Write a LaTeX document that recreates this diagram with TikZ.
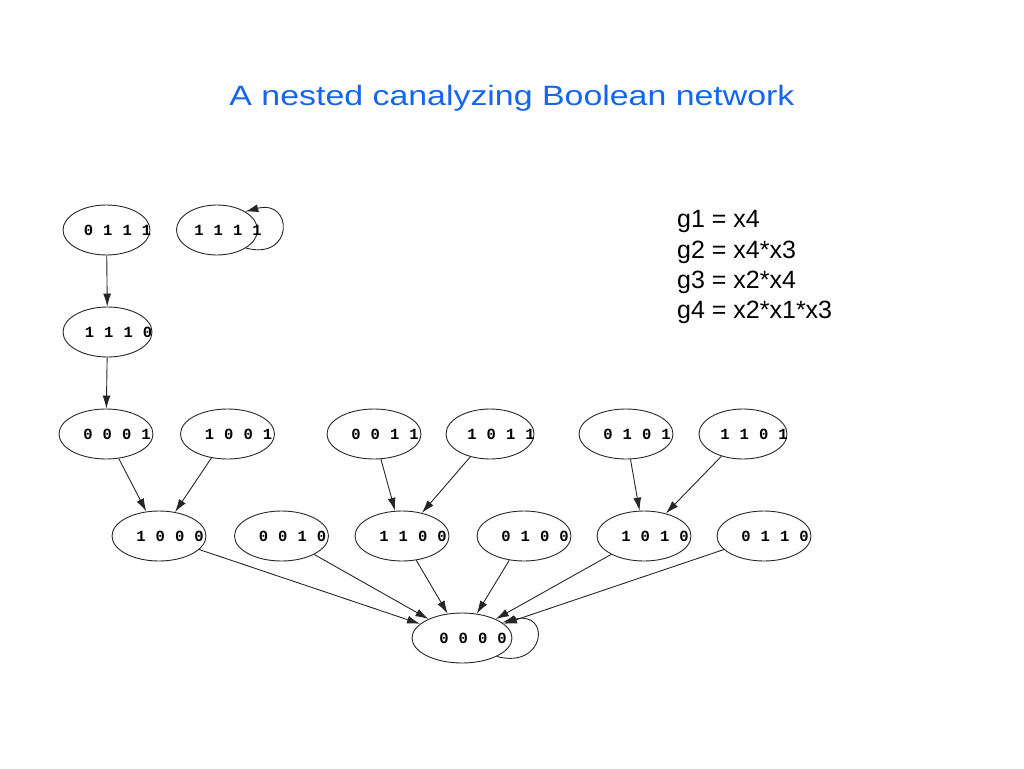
\documentclass[tikz,border=0pt]{standalone}
\usepackage{fontspec}
\setmainfont{Liberation Sans}
\newfontfamily\bitfont[WordSpace=1.08]{Liberation Mono}
\usetikzlibrary{shapes.geometric, arrows.meta}
\definecolor{titleblue}{RGB}{22,102,235}
\tikzstyle{state} = [ellipse, draw=black!85, line width=0.9pt, minimum width=94pt, minimum height=50pt,
inner sep=0pt, font=\bitfont\bfseries\fontsize{15.5}{15.5}\selectfont]
\tikzstyle{arrow} = [line width=0.9pt, draw=black!85, ->, >={Latex[length=13pt, width=8pt]}]
\tikzstyle{eqn} = [anchor=base west, inner sep=0pt, font=\fontsize{25}{30}\selectfont]
\newcommand{\bits}[1]{\makebox[0pt]{\hspace{22pt}#1}}

\begin{document}
\begin{tikzpicture}[node distance=102pt]

    \useasboundingbox (-106.5pt,-538pt) rectangle (917.5pt,230pt);

    \node (title) [anchor=base, text=titleblue, font=\fontsize{28}{32}\selectfont] at (405.5pt,124pt)
        {\scalebox{1.21}[1]{A nested canalyzing Boolean network}};

    \node (g1) [eqn] at (570.5pt,3pt) {g1 = x4};
    \node (g2) [eqn] at (570.5pt,-28pt) {g2 = x4*x3};
    \node (g3) [eqn] at (570.5pt,-58pt) {g3 = x2*x4};
    \node (g4) [eqn] at (570.5pt,-88pt) {g4 = x2*x1*x3};

    \node (s0111) [state, minimum width=87pt] {\bits{0 1 1 1}};
    \node (s1111) [state, minimum width=81pt, right of=s0111, xshift=8.5pt] {\bits{1 1 1 1}};

    \node (s1110) [state, minimum width=89pt, below of=s0111, xshift=1pt] {\bits{1 1 1 0}};

    \node (s0001) [state, below of=s1110, xshift=-1.5pt] {\bits{0 0 0 1}};
    \node (s1001) [state, right of=s0001, xshift=19.5pt] {\bits{1 0 0 1}};
    \node (s0011) [state, right of=s1001, xshift=44.5pt] {\bits{0 0 1 1}};
    \node (s1011) [state, minimum width=88pt, right of=s0011, xshift=14pt] {\bits{1 0 1 1}};
    \node (s0101) [state, right of=s1011, xshift=34pt] {\bits{0 1 0 1}};
    \node (s1101) [state, minimum width=88pt, right of=s0101, xshift=15pt] {\bits{1 1 0 1}};

    \node (s1000) [state, below of=s0001, xshift=53pt] {\bits{1 0 0 0}};
    \node (s0010) [state, right of=s1000, xshift=20.5pt] {\bits{0 0 1 0}};
    \node (s1100) [state, right of=s0010, xshift=18.5pt] {\bits{1 1 0 0}};
    \node (s0100) [state, right of=s1100, xshift=20pt] {\bits{0 1 0 0}};
    \node (s1010) [state, right of=s0100, xshift=18pt] {\bits{1 0 1 0}};
    \node (s0110) [state, right of=s1010, xshift=18pt] {\bits{0 1 1 0}};

    \node (s0000) [state, minimum width=100pt, below of=s1100, xshift=60pt] {\bits{0 0 0 0}};

    \draw[arrow] (s0111) -- (s1110);
    \draw[arrow] (s1110) -- (s0001);
    \draw[arrow] (s1111.-32) to[out=-15, in=15, looseness=3.5] (s1111.33);

    \draw[arrow] (s0001) -- (s1000);
    \draw[arrow] (s1001) -- (s1000);
    \draw[arrow] (s0011) -- (s1100);
    \draw[arrow] (s1011) -- (s1100);
    \draw[arrow] (s0101) -- (s1010);
    \draw[arrow] (s1101) -- (s1010);

    \draw[arrow] (s1000) -- (s0000);
    \draw[arrow] (s0010) -- (s0000);
    \draw[arrow] (s1100) -- (s0000);
    \draw[arrow] (s0100) -- (s0000);
    \draw[arrow] (s1010) -- (s0000);
    \draw[arrow] (s0110) -- (s0000);
    \draw[arrow] (s0000.-28) to[out=-15, in=15, looseness=3.8] (s0000.21);

\end{tikzpicture}
\end{document}
